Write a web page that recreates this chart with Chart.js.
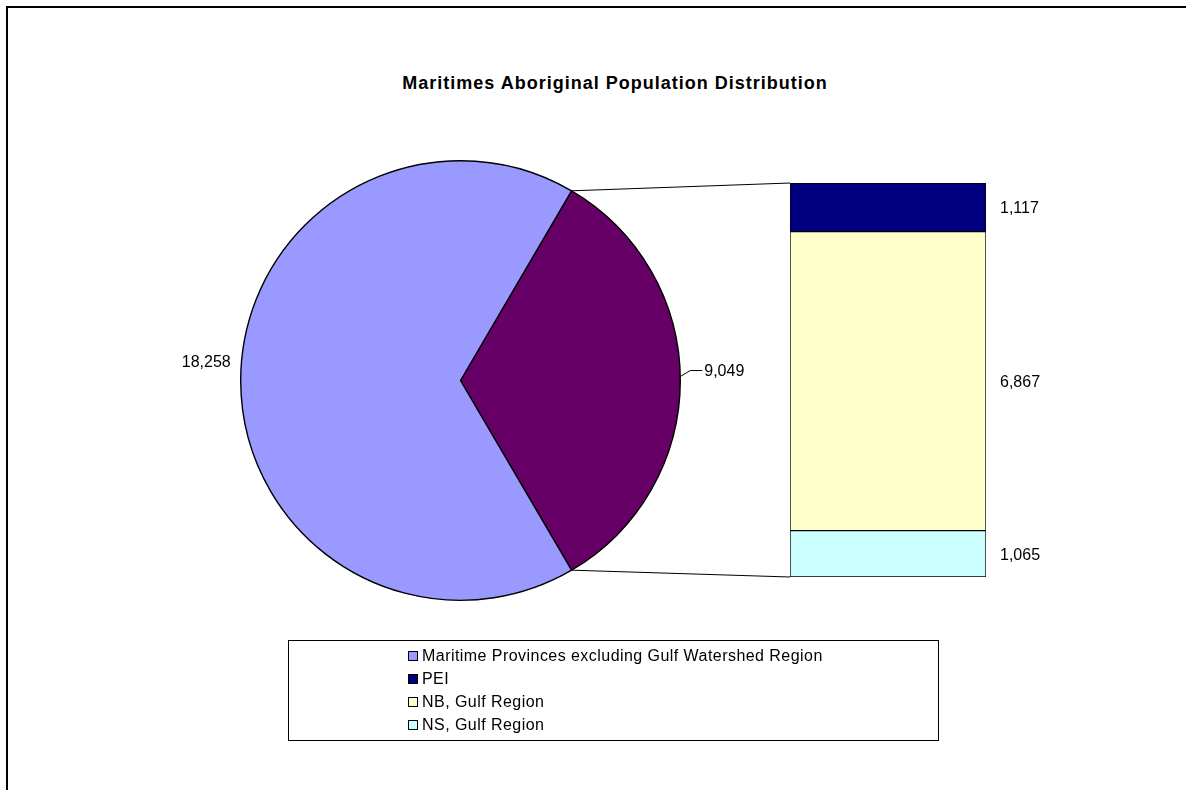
<!DOCTYPE html>
<html>
<head>
<meta charset="utf-8">
<title>Maritimes Aboriginal Population Distribution</title>
<script src="https://cdn.jsdelivr.net/npm/chart.js@4.4.1/dist/chart.umd.min.js"></script>
<style>
  html, body { margin: 0; padding: 0; background: #fff; overflow: hidden; }
  body { width: 1186px; height: 790px; position: relative;
         font-family: "Liberation Sans", Arial, sans-serif; color: #000; }
  .edge-top { position: absolute; left: 6px; top: 6px; width: 1180px; height: 2px; background: #000; }
  .edge-left { position: absolute; left: 6px; top: 6px; width: 2px; height: 784px; background: #000; }
  canvas { position: absolute; left: 0; top: 0; }
  .title { position: absolute; left: 0; width: 1230px; top: 73px; text-align: center;
           font-weight: bold; font-size: 18px; letter-spacing: 1px; }
  .legend { position: absolute; left: 288px; top: 640px; width: 651px; height: 101px;
            border: 1px solid #000; box-sizing: border-box; }
  .legend .item { position: absolute; left: 119px; height: 20px; line-height: 20px;
                  font-size: 16px; white-space: nowrap; letter-spacing: 0.45px; }
  .legend .sw { display: inline-block; width: 8px; height: 8px; border: 1px solid #000;
                margin-right: 4px; vertical-align: 0px; }
</style>
</head>
<body>
<div class="edge-top"></div>
<div class="edge-left"></div>
<div class="title">Maritimes Aboriginal Population Distribution</div>
<canvas id="pie" width="1186" height="790"></canvas>
<canvas id="bar" width="1186" height="790"></canvas>
<div class="legend" id="legend"></div>

<script>
// Categories and values
const categories = ['Maritime Provinces excluding Gulf Watershed Region', 'PEI', 'NB, Gulf Region', 'NS, Gulf Region'];
const outsideGulf = 18258;
const gulfLabels = ['PEI', 'NB, Gulf Region', 'NS, Gulf Region'];
const gulfValues = [1117, 6867, 1065];
const colors = ['#9999FF', '#000080', '#FFFFCC', '#CCFFFF'];
const gulfSliceColor = '#660066';

const gulfTotal = gulfValues.reduce((a, b) => a + b, 0);
const grandTotal = outsideGulf + gulfTotal;
const fmt = v => v.toLocaleString('en-US');
const FONT = '16px "Liberation Sans", Arial, sans-serif';
const TEXT_DY = 1.5; // optical centring of numeric labels

// Legend
const legendEl = document.getElementById('legend');
categories.forEach((name, i) => {
  const d = document.createElement('div');
  d.className = 'item';
  d.style.top = (5 + i * 23) + 'px';
  d.innerHTML = '<span class="sw" style="background:' + colors[i] + '"></span>' + name;
  legendEl.appendChild(d);
});

// Gulf slice centred on the right-hand side, pointing at the bar
const gulfSweep = gulfTotal / grandTotal * 360;
const pieRotation = 90 - gulfSweep / 2;

const pieLabels = {
  id: 'pieLabels',
  afterDraw(chart) {
    const ctx = chart.ctx;
    const arcs = chart.getDatasetMeta(0).data;
    ctx.save();
    ctx.font = FONT;
    ctx.fillStyle = '#000';
    ctx.textBaseline = 'middle';
    // Gulf slice label with leader
    const g = arcs[0];
    const gMid = (g.startAngle + g.endAngle) / 2;
    const p0x = g.x + g.outerRadius * Math.cos(gMid - 0.018);
    const p0y = g.y + g.outerRadius * Math.sin(gMid - 0.018);
    ctx.strokeStyle = '#000';
    ctx.lineWidth = 1;
    ctx.beginPath();
    ctx.moveTo(p0x, p0y);
    ctx.lineTo(p0x + 10, p0y - 6);
    ctx.lineTo(p0x + 22, p0y - 6);
    ctx.stroke();
    ctx.textAlign = 'left';
    ctx.fillText(fmt(chart.data.datasets[0].data[0]), p0x + 24, p0y - 6 + TEXT_DY);
    // Remaining slice label
    const o = arcs[1];
    const oMid = (o.startAngle + o.endAngle) / 2;
    ctx.textAlign = 'right';
    ctx.fillText(fmt(chart.data.datasets[0].data[1]),
      o.x + (o.outerRadius + 10) * Math.cos(oMid),
      o.y + (o.outerRadius + 10) * Math.sin(oMid) - 19 + TEXT_DY);
    ctx.restore();
  }
};

const pieChart = new Chart(document.getElementById('pie'), {
  type: 'pie',
  data: {
    labels: ['Gulf Watershed Region', categories[0]],
    datasets: [{
      data: [gulfTotal, outsideGulf],
      backgroundColor: [gulfSliceColor, colors[0]],
      borderColor: '#000',
      borderWidth: 1.4
    }]
  },
  options: {
    responsive: false,
    animation: false,
    rotation: pieRotation,
    layout: { padding: { left: 240, right: 505, top: 160, bottom: 189 } },
    plugins: { legend: { display: false }, tooltip: { enabled: false }, title: { display: false } }
  },
  plugins: [pieLabels]
});

// Stacked bar: bottom to top NS, NB, PEI
const barOrder = [2, 1, 0];
const barLabels = {
  id: 'barLabels',
  afterDraw(chart) {
    const ctx = chart.ctx;
    ctx.save();
    ctx.font = FONT;
    ctx.fillStyle = '#000';
    ctx.textAlign = 'left';
    ctx.textBaseline = 'middle';
    chart.data.datasets.forEach((ds, i) => {
      const el = chart.getDatasetMeta(i).data[0];
      ctx.fillText(fmt(ds.data[0]), chart.chartArea.right + 14, (el.y + el.base) / 2 + TEXT_DY);
    });
    // Connector lines from the gulf slice to the bar
    const g = pieChart.getDatasetMeta(0).data[0];
    const topEl = chart.getDatasetMeta(chart.data.datasets.length - 1).data[0];
    const botEl = chart.getDatasetMeta(0).data[0];
    const left = botEl.x - botEl.width / 2;
    ctx.strokeStyle = '#000';
    ctx.lineWidth = 1;
    ctx.beginPath();
    ctx.moveTo(g.x + g.outerRadius * Math.cos(g.startAngle), g.y + g.outerRadius * Math.sin(g.startAngle));
    ctx.lineTo(left, topEl.y);
    ctx.moveTo(g.x + g.outerRadius * Math.cos(g.endAngle), g.y + g.outerRadius * Math.sin(g.endAngle));
    ctx.lineTo(left, botEl.base);
    ctx.stroke();
    ctx.restore();
  }
};

new Chart(document.getElementById('bar'), {
  type: 'bar',
  data: {
    labels: ['Gulf Watershed Region'],
    datasets: barOrder.map(i => ({
      label: gulfLabels[i],
      data: [gulfValues[i]],
      backgroundColor: colors[i + 1],
      borderColor: '#000',
      borderWidth: 1,
      borderSkipped: false,
      barPercentage: 1,
      categoryPercentage: 1
    }))
  },
  options: {
    responsive: false,
    animation: false,
    layout: { padding: { left: 790, right: 200, top: 183, bottom: 213 } },
    scales: {
      x: { display: false, stacked: true, offset: true },
      y: { display: false, stacked: true, min: 0, max: gulfTotal }
    },
    plugins: { legend: { display: false }, tooltip: { enabled: false }, title: { display: false } }
  },
  plugins: [barLabels]
});
</script>
</body>
</html>
